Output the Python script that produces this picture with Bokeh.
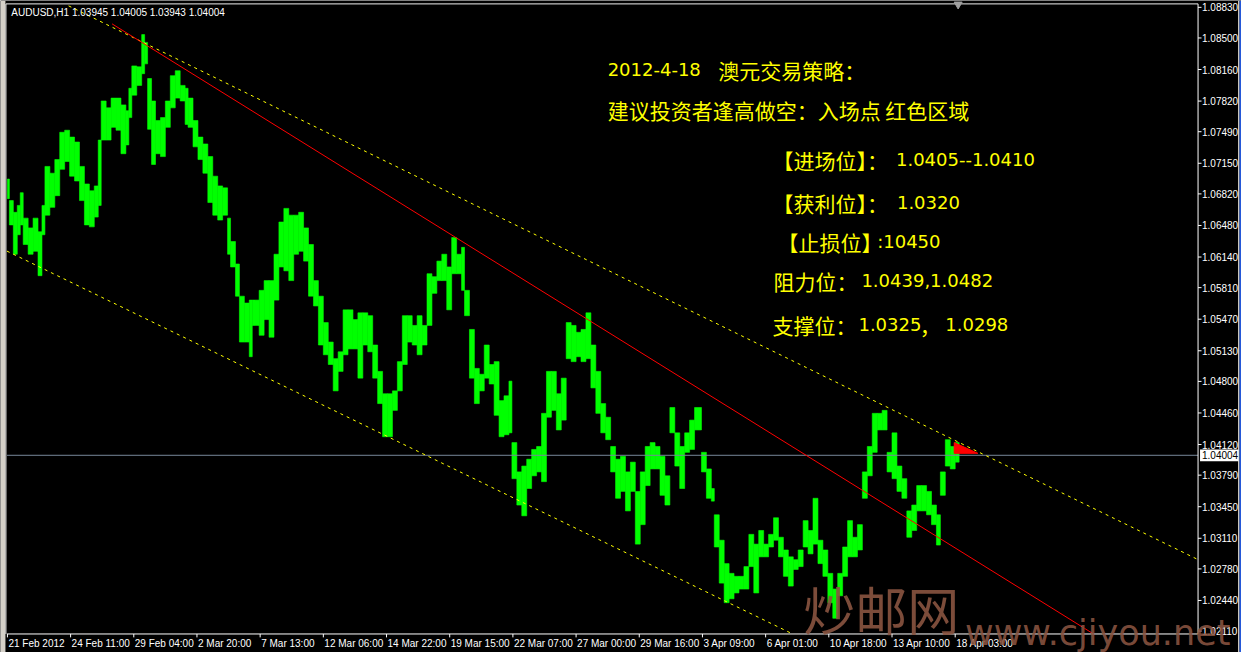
from bokeh.plotting import figure
from bokeh.models import Range1d, Label, ColumnDataSource
from bokeh.embed import file_html
from bokeh.resources import INLINE

# ---------------- data ----------------
symbol_header = "AUDUSD,H1  1.03945 1.04005 1.03943 1.04004"
last_price = 1.04004

# hourly bars grouped: start bar index of each group, group high / low
bar_start = [0,2,6,10,13,16,21,26,31,35,
             38,43,48,53,58,63,68,73,78,83,
             88,92,95,100,105,110,115,120,123,126,
             131,136,139,142,146,150,155,160,165,170,
             175,180,183,188,193,198,203,208,213,218,
             223,226,231,235,240,245,248,255,260,265,
             270,275,280,285,290,295,300,305,310,315,
             320,325,330,335,340,345,350,355,360,365,
             370,375,380,385,390,395,400,405,410,415,
             420,425,430,435,440,445,450,455,460,463,
             468,473,478,483,488,493,498,503,508,511,
             516,521,526,531,536,541,546,551,556,561,
             566,571,576,581,586,591,596,601,606,611,
             616,621,626,631,636,641,646,651,656,661,
             666,671,676,681,686,691,696,703,708,713,
             716,721,726,731,736,741,746,751,756,761,
             766,771,776,781,786,791,796,801,806,811,
             816,821,826,831,836,841,846,851,856,861,
             866,871,876,881,886,891,896,901,906,911,
             916,921,926,931,936,941,945,950,955,960]
last_bar_end = 964

high = [1.06980,1.06748,1.06622,1.06696,1.06833,1.06559,1.06454,1.06559,1.06412,1.06696,
        1.07116,1.07043,1.07190,1.07484,1.07506,1.07432,1.07379,1.07116,1.06927,1.06854,
        1.06906,1.07400,1.07821,1.07747,1.07852,1.07852,1.07779,1.07716,1.07958,1.08199,
        1.08189,1.08536,1.08452,1.08063,1.07821,1.07611,1.07642,1.07821,1.08094,1.08147,
        1.07989,1.07958,1.07852,1.07611,1.07432,1.07358,1.07222,1.07011,1.06906,1.06885,
        1.06559,1.06307,1.06065,1.05718,1.05644,1.05676,1.05676,1.05781,1.05886,1.05886,
        1.06170,1.06517,1.06664,1.06591,1.06591,1.06622,1.06454,1.06275,1.05886,1.05718,
        1.05434,1.05224,1.05045,1.05119,1.05571,1.05571,1.05466,1.05539,1.05539,1.05508,
        1.05192,1.04908,1.04667,1.04667,1.04698,1.05013,1.05508,1.05508,1.05403,1.05508,
        1.05403,1.05960,1.05928,1.06096,1.06170,1.06033,1.06349,1.06170,1.06244,1.05781,
        1.05360,1.04940,1.04877,1.05192,1.04982,1.05013,1.04593,1.04645,1.04803,1.04141,
        1.03825,1.03888,1.03962,1.04067,1.04099,1.04456,1.04908,1.04908,1.04667,1.04835,
        1.05434,1.05403,1.05329,1.05360,1.05539,1.05192,1.04908,1.04561,1.04414,1.04099,
        1.03962,1.03993,1.03825,1.03930,1.03615,1.03825,1.04099,1.04141,1.04099,1.03993,
        1.03783,1.04519,1.04246,1.04099,1.04246,1.04383,1.04519,1.04036,1.03857,1.03646,
        1.03363,1.03089,1.02837,1.02732,1.02700,1.02700,1.02805,1.03152,1.03047,1.03194,
        1.03047,1.03152,1.03331,1.03121,1.02984,1.02910,1.02879,1.02984,1.03300,1.03194,
        1.03541,1.03089,1.02984,1.02732,1.02563,1.02732,1.03016,1.03300,1.03121,1.03257,
        1.03825,1.04099,1.04456,1.04456,1.04488,1.04036,1.04246,1.03888,1.03752,1.03405,
        1.03468,1.03678,1.03678,1.03615,1.03468,1.03363,1.03825,1.04172,1.04099,1.04141]

low = [1.06769,1.06486,1.06170,1.06380,1.06486,1.06275,1.06170,1.06202,1.05939,1.06380,
       1.06591,1.06675,1.06801,1.07085,1.07169,1.07011,1.06959,1.06748,1.06486,1.06465,
       1.06570,1.06696,1.07400,1.07400,1.07537,1.07506,1.07253,1.07348,1.07642,1.07884,
       1.07989,1.08115,1.08221,1.07516,1.07137,1.07253,1.07222,1.07537,1.07747,1.07852,
       1.07821,1.07569,1.07537,1.07327,1.07190,1.07043,1.06727,1.06591,1.06538,1.06591,
       1.06170,1.06033,1.05718,1.05224,1.05224,1.05066,1.05403,1.05297,1.05466,1.05276,
       1.05676,1.06033,1.05991,1.05886,1.06170,1.06202,1.06096,1.05718,1.05613,1.05192,
       1.05087,1.04982,1.04698,1.04908,1.05087,1.05150,1.05150,1.04835,1.05192,1.05119,
       1.04835,1.04561,1.04204,1.04204,1.04488,1.04698,1.04982,1.05224,1.05192,1.05087,
       1.05192,1.05403,1.05749,1.05886,1.05886,1.05571,1.05960,1.05960,1.05781,1.05508,
       1.04835,1.04561,1.04698,1.04835,1.04772,1.04435,1.04204,1.04225,1.04246,1.03752,
       1.03468,1.03352,1.03646,1.03783,1.03825,1.03720,1.04414,1.04488,1.04277,1.04383,
       1.05045,1.05013,1.05066,1.05013,1.05045,1.04730,1.04456,1.04246,1.04172,1.03825,
       1.03541,1.03615,1.03405,1.03615,1.03047,1.03257,1.03678,1.03857,1.03857,1.03573,
       1.03468,1.04246,1.03888,1.03646,1.04036,1.04067,1.04277,1.03825,1.03541,1.03510,
       1.03016,1.02627,1.02416,1.02458,1.02521,1.02563,1.02563,1.02805,1.02521,1.02910,
       1.02910,1.03016,1.03089,1.02910,1.02700,1.02595,1.02774,1.02805,1.03016,1.02942,
       1.03047,1.02837,1.02700,1.02416,1.02248,1.02490,1.02700,1.02910,1.02910,1.02984,
       1.03541,1.03783,1.04036,1.04277,1.04277,1.03825,1.03752,1.03615,1.03541,1.03121,
       1.03194,1.03405,1.03405,1.03363,1.03257,1.03037,1.03573,1.03888,1.03857,1.03930]

x_tick_bars = [0, 64, 128, 192, 256, 320, 384, 448, 512, 576, 640, 704, 768, 832, 896, 960]
x_tick_labels = ["21 Feb 2012", "24 Feb 11:00", "29 Feb 04:00", "2 Mar 20:00", "7 Mar 13:00",
                 "12 Mar 06:00", "14 Mar 22:00", "19 Mar 15:00", "22 Mar 07:00", "27 Mar 00:00",
                 "29 Mar 16:00", "3 Apr 09:00", "6 Apr 01:00", "10 Apr 18:00", "13 Apr 10:00",
                 "18 Apr 03:00"]
y_ticks = [1.08830, 1.08500, 1.08160, 1.07820, 1.07490, 1.07150, 1.06820, 1.06480, 1.06140,
           1.05810, 1.05470, 1.05130, 1.04800, 1.04460, 1.04120, 1.03790, 1.03450, 1.03110,
           1.02780, 1.02440, 1.02110]

# trend lines (bar index, price)
upper_chan_x = [62, 1206]
upper_chan_y = [1.08846, 1.02880]
lower_chan_x = [-0.5, 795]
lower_chan_y = [1.06204, 1.02081]
red_line_x = [106, 1100]
red_line_y = [1.08652, 1.02080]
zone_x = [959, 983, 959]
zone_y = [1.04141, 1.04025, 1.04025]

# strategy notes
title_date = "2012-4-18"
title_cn = "澳元交易策略："
advice = "建议投资者逢高做空：入场点 红色区域"
entry_cn, entry_val = "【进场位】：", "1.0405--1.0410"
target_cn, target_val = "【获利位】：", "1.0320"
stop_cn, stop_val = "【止损位】", ":10450"
resist_cn, resist_val = "阻力位：", "1.0439,1.0482"
support_cn, support_val1, support_sep, support_val2 = "支撑位：", "1.0325", "，", "1.0298"
watermark_cn = "炒邮网"
watermark_en = "www.cjiyou.net"

# ---------------- layout constants (whole canvas is the plotting frame) ----------------
XR = (-7, 1250)             # canvas in bar units
YR = (1.018794, 1.089036)   # canvas in price units
F_L, F_R = -0.5, 1206       # chart frame (bars)
F_T, F_B = 1.08867, 1.02079  # chart frame (prices)
PX = (YR[1] - YR[0]) / 668.0  # price per reference pixel

p = figure(width=1241, height=652, x_range=Range1d(*XR), y_range=Range1d(*YR),
           output_backend="svg", toolbar_location=None,
           x_axis_location=None, y_axis_location=None, min_border=0)
p.background_fill_color = "black"
p.border_fill_color = "black"
p.outline_line_color = None
for g in p.grid:
    g.visible = False
p.xgrid.grid_line_color = None
p.ygrid.grid_line_color = None

AX_FONT = "Liberation Sans"
WHITE = "white"

# window frame pieces
p.quad(left=[XR[0]], right=[-2], top=[YR[1]], bottom=[YR[0]], fill_color="#d4d0c8", line_color=None)
p.quad(left=[1246.5], right=[1248], top=[YR[1]], bottom=[YR[0]], fill_color="#d4d0c8", line_color=None)
p.quad(left=[1248], right=[XR[1]], top=[YR[1]], bottom=[YR[0]], fill_color="#2458d8", line_color=None)
p.segment(x0=[-1.5], y0=[F_T], x1=[-1.5], y1=[F_B], line_color="#f0f0f0", line_width=1)
p.segment(x0=[-1.5], y0=[F_T], x1=[F_R], y1=[F_T], line_color="#f0f0f0", line_width=1)

# price bars
src = ColumnDataSource(dict(left=bar_start, right=bar_start[1:] + [last_bar_end],
                            top=high, bottom=low))
p.quad(left="left", right="right", top="top", bottom="bottom", source=src,
       fill_color="#00ff00", line_color="#00ff00", line_width=0.6)

# current price line
p.segment(x0=[F_L], y0=[last_price], x1=[F_R], y1=[last_price], line_color="#778899", line_width=1)

# channel + trend lines
p.line(upper_chan_x, upper_chan_y, line_color="#ffff00", line_width=1, line_dash="3 4")
p.line(lower_chan_x, lower_chan_y, line_color="#ffff00", line_width=1, line_dash="3 4")
p.line(red_line_x, red_line_y, line_color="#ff0000", line_width=1)
p.patch(zone_x, zone_y, fill_color="#ff0000", line_color="#ff0000")

# shift marker at top
p.scatter([963], [1.08862], marker="inverted_triangle", size=8, color="#a0a0a0")

# ---- axes drawn by hand ----
p.segment(x0=[F_R], y0=[F_T], x1=[F_R], y1=[F_B], line_color=WHITE, line_width=1)
p.segment(x0=[F_L], y0=[F_B], x1=[F_R], y1=[F_B], line_color=WHITE, line_width=1)
# y ticks
p.segment(x0=[F_R] * len(y_ticks), y0=y_ticks, x1=[F_R + 3.5] * len(y_ticks), y1=y_ticks,
          line_color=WHITE, line_width=1)
for t in y_ticks:
    p.add_layout(Label(x=F_R + 4, y=t, text=f"{t:.5f}", text_color=WHITE, text_font=AX_FONT,
                       text_font_size="10px", text_baseline="middle", text_align="left"))
# x ticks
p.segment(x0=x_tick_bars, y0=[F_B] * len(x_tick_bars), x1=x_tick_bars,
          y1=[F_B - 3.5 * PX] * len(x_tick_bars), line_color=WHITE, line_width=1)
for b, lab in zip(x_tick_bars, x_tick_labels):
    p.add_layout(Label(x=b, y=F_B - 4 * PX, x_offset=1, text=lab, text_color=WHITE,
                       text_font=AX_FONT, text_font_size="10px", text_align="left",
                       text_baseline="top"))

# price box on axis
p.quad(left=[F_R + 2], right=[F_R + 41], top=[last_price + 6 * PX], bottom=[last_price - 6 * PX],
       fill_color=WHITE, line_color=None)
p.add_layout(Label(x=F_R + 4, y=last_price, text=f"{last_price:.5f}", text_color="black",
                   text_font=AX_FONT, text_font_size="10px", text_baseline="middle"))

# header
p.add_layout(Label(x=4, y=1.08777, text=symbol_header, text_color=WHITE, text_font=AX_FONT,
                   text_font_size="10px", text_baseline="middle"))

CJK = "Noto Sans CJK SC"
NUM = "DejaVu Sans"
YEL = "#ffff00"

def txt(x, y, s, font, size):
    p.add_layout(Label(x=x, y=y, text=s, text_color=YEL, text_font=font,
                       text_font_size=size, text_baseline="middle"))

txt(608, 1.08157, title_date, NUM, "18px")
txt(720, 1.08157, title_cn, CJK, "21px")
txt(608, 1.07726, advice, CJK, "21px")
txt(775, 1.07190, entry_cn, CJK, "21px")
txt(900, 1.07190, entry_val, NUM, "18px")
txt(775, 1.06727, target_cn, CJK, "21px")
txt(901, 1.06727, target_val, NUM, "18px")
txt(780, 1.06307, stop_cn, CJK, "21px")
txt(881, 1.06307, stop_val, NUM, "18px")
txt(776, 1.05886, resist_cn, CJK, "21px")
txt(865, 1.05886, resist_val, NUM, "18px")
txt(775, 1.05413, support_cn, CJK, "21px")
txt(862, 1.05413, support_val1, NUM, "18px")
txt(924, 1.05413, support_sep, CJK, "21px")
txt(950, 1.05413, support_val2, NUM, "18px")

# watermark
WM = "#8a5440"
p.add_layout(Label(x=806, y=1.02353, text=watermark_cn, text_color=WM, text_alpha=0.9,
                   text_font=CJK, text_font_size="52px", text_baseline="middle"))
p.add_layout(Label(x=970, y=1.02090, text=watermark_en, text_color=WM, text_alpha=0.9,
                   text_font=NUM, text_font_size="35px", text_baseline="alphabetic"))

open("out.html", "w").write(file_html(p, INLINE))
